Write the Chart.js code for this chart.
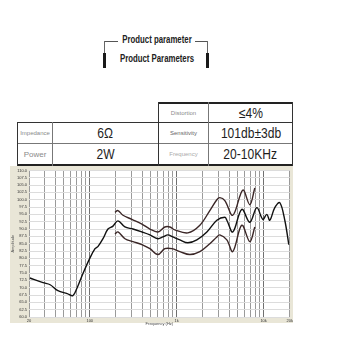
<!DOCTYPE html>
<html>
<head>
<meta charset="utf-8">
<script src="https://cdn.jsdelivr.net/npm/chart.js@4.4.0/dist/chart.umd.min.js"></script>
<style>
html, body { margin: 0; padding: 0; background: #fff; }
body { width: 340px; height: 340px; position: relative; overflow: hidden;
       font-family: "Liberation Sans Narrow", "Liberation Sans", Arial, sans-serif; }
.hd { position: absolute; left: 100px; width: 114px; text-align: center; font-size: 10px;
      font-weight: bold; color: #222; line-height: 12px; transform: scaleX(0.78); }
.ln { position: absolute; }
.cell { position: absolute; display: flex; align-items: center; justify-content: center; }
.lab { font-size: 6px; color: #8a8a8a; }
.val { font-size: 14px; color: #1e1e1e; }
.val span { display: inline-block; transform: scaleX(0.86); }
#wrap { position: absolute; left: 10px; top: 166px; width: 284px; height: 160px; }
</style>
</head>
<body>

<!-- header with brackets -->
<div class="hd" style="top:34px">Product parameter</div>
<div class="hd" style="top:53px">Product Parameters</div>
<div class="ln" style="left:104px;top:41px;width:14px;height:1px;background:#555"></div>
<div class="ln" style="left:104px;top:41px;width:1px;height:13px;background:#666"></div>
<div class="ln" style="left:103px;top:53px;width:3px;height:15px;background:#1a1a1a"></div>
<div class="ln" style="left:195px;top:41px;width:13px;height:1px;background:#555"></div>
<div class="ln" style="left:207px;top:41px;width:1px;height:13px;background:#666"></div>
<div class="ln" style="left:206px;top:53px;width:3px;height:15px;background:#1a1a1a"></div>

<!-- parameter table -->
<div class="ln" style="left:158px;top:102px;width:135px;height:2px;background:#222"></div>
<div class="ln" style="left:17px;top:122px;width:276px;height:1px;background:#333"></div>
<div class="ln" style="left:17px;top:143px;width:276px;height:1px;background:#777"></div>
<div class="ln" style="left:17px;top:164px;width:276px;height:2px;background:#222"></div>
<div class="ln" style="left:17px;top:122px;width:1px;height:44px;background:#333"></div>
<div class="ln" style="left:52px;top:122px;width:1px;height:44px;background:#777"></div>
<div class="ln" style="left:158px;top:102px;width:1px;height:64px;background:#333"></div>
<div class="ln" style="left:208px;top:102px;width:1px;height:64px;background:#777"></div>
<div class="ln" style="left:292px;top:102px;width:1px;height:64px;background:#333"></div>

<div class="cell lab" style="left:159px;top:104px;width:49px;height:18px">Distortion</div>
<div class="cell val" style="left:209px;top:104px;width:83px;height:18px"><span>≤4%</span></div>
<div class="cell lab" style="left:18px;top:123px;width:34px;height:20px">Impedance</div>
<div class="cell val" style="left:53px;top:123px;width:105px;height:20px"><span>6Ω</span></div>
<div class="cell lab" style="left:159px;top:123px;width:49px;height:20px;color:#666">Sensitivity</div>
<div class="cell val" style="left:209px;top:123px;width:83px;height:20px"><span>101db±3db</span></div>
<div class="cell lab" style="left:18px;top:144px;width:34px;height:20px;font-size:8px">Power</div>
<div class="cell val" style="left:53px;top:144px;width:105px;height:20px"><span>2W</span></div>
<div class="cell lab" style="left:159px;top:144px;width:49px;height:20px;color:#aaa">Frequency</div>
<div class="cell val" style="left:209px;top:144px;width:83px;height:20px"><span>20-10KHz</span></div>

<div id="wrap"><canvas id="fr" width="284" height="160"></canvas></div>

<script>
// measured response (Hz / dB)
const freqMain = [20.5, 29, 35, 43, 55, 64, 71, 84, 100, 115, 124, 142, 162, 185, 211, 254, 314, 398, 492, 608, 694, 792, 904, 1088, 1345, 1706, 2224, 2898, 3581, 3776, 4424, 5612, 6937, 8352, 9790, 10888, 11780, 13446, 15350, 17530, 19490];
const splMain  = [73.3, 71.7, 71.0, 69.0, 68.0, 67.3, 69.7, 75.0, 80.0, 83.3, 84.0, 86.7, 90.0, 91.0, 92.8, 90.7, 90.0, 89.0, 88.0, 86.7, 87.3, 88.0, 87.3, 86.3, 85.3, 86.3, 89.0, 93.0, 94.0, 93.0, 89.0, 96.7, 92.3, 97.3, 93.3, 95.0, 93.0, 97.3, 99.0, 93.0, 84.7];

// +3 dB tolerance curve
const freqUpper = [195, 211, 241, 305, 398, 492, 608, 731, 836, 953, 1345, 1848, 2406, 2898, 3135, 3581, 4424, 5768, 6937, 7920];
const splUpper  = [95.7, 96.3, 94.7, 93.3, 91.7, 90.0, 89.0, 90.7, 90.7, 89.7, 88.7, 91.3, 96.3, 100.0, 100.7, 99.7, 94.7, 103.3, 98.3, 104.0];

// -3 dB tolerance curve
const freqLower = [195, 211, 254, 314, 398, 492, 608, 731, 881, 1088, 1418, 1848, 2406, 2898, 3135, 3776, 4424, 5612, 6937, 7920];
const splLower  = [88.3, 89.0, 86.7, 85.7, 84.7, 83.3, 81.3, 83.3, 83.3, 82.3, 81.3, 82.3, 85.0, 87.3, 88.0, 86.3, 82.3, 91.3, 85.7, 90.7];

// axes
const gridFreqs = [20, 30, 40, 50, 60, 70, 80, 90, 100, 200, 300, 400, 500, 600, 700, 800, 900,
                   1000, 2000, 3000, 4000, 5000, 6000, 7000, 8000, 9000, 10000, 20000];
const freqLabelValues = [20, 100, 1000, 10000, 20000];
const freqLabelText = ['20', '100', '1k', '10k', '20k'];
const splMin = 60;
const splMax = 110;
const splStep = 2.5;

function toPoints(xs, ys) {
    return xs.map((x, i) => ({ x: x, y: ys[i] }));
}

const panelBg = {
    id: 'panelBg',
    beforeDraw(chart) {
        const { ctx, chartArea: a } = chart;
        ctx.save();
        ctx.fillStyle = '#e9e6d7';
        ctx.fillRect(0, 0, 283, 157);
        ctx.fillStyle = '#ffffff';
        ctx.fillRect(a.left, a.top, a.right - a.left, a.bottom - a.top);
        ctx.restore();
    }
};

const lineStyle = { pointRadius: 0, borderWidth: 1.4, tension: 0.35, fill: false };

new Chart(document.getElementById('fr'), {
    type: 'line',
    data: {
        datasets: [
            Object.assign({ label: 'upper', data: toPoints(freqUpper, splUpper), borderColor: '#3a2626' }, lineStyle),
            Object.assign({ label: 'lower', data: toPoints(freqLower, splLower), borderColor: '#3a2626' }, lineStyle),
            Object.assign({ label: 'response', data: toPoints(freqMain, splMain), borderColor: '#111111' }, lineStyle)
        ]
    },
    options: {
        responsive: false,
        animation: false,
        layout: { padding: { top: 1, right: 4, left: 0, bottom: 0 } },
        plugins: { legend: { display: false }, tooltip: { enabled: false } },
        scales: {
            x: {
                type: 'logarithmic',
                min: 20,
                max: 20000,
                afterBuildTicks: s => { s.ticks = gridFreqs.map(v => ({ value: v })); },
                afterFit: s => { s.height = 9; },
                border: { display: false },
                grid: {
                    drawTicks: false,
                    lineWidth: 1,
                    color: c => (c.tick && [100, 1000, 10000].includes(c.tick.value)) ? '#707070' : '#9a9a9a'
                },
                ticks: {
                    autoSkip: false,
                    maxRotation: 0,
                    padding: 1,
                    color: '#333',
                    font: { size: 4 },
                    callback: v => {
                        const i = freqLabelValues.indexOf(v);
                        return i >= 0 ? freqLabelText[i] : '';
                    }
                },
                title: { display: true, text: 'Frequency (Hz)', color: '#444', font: { size: 4 }, padding: 0 }
            },
            y: {
                min: splMin,
                max: splMax,
                afterFit: s => { s.width = 19; },
                border: { display: false },
                grid: { drawTicks: false, color: '#dcdcdc', lineWidth: 1 },
                ticks: {
                    stepSize: splStep,
                    autoSkip: false,
                    padding: 2,
                    color: '#333',
                    font: { size: 4 },
                    callback: v => v.toFixed(1)
                },
                title: { display: true, text: 'Amplitude', color: '#555', font: { size: 4 }, padding: 0 }
            }
        }
    },
    plugins: [panelBg]
});
</script>
</body>
</html>
